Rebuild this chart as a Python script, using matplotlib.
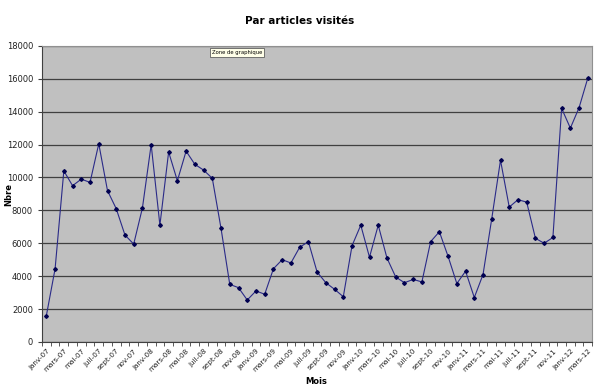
import numpy as np
import matplotlib.pyplot as plt

# monthly visits, janv-07 .. mars-12
mois_fr = ['janv', 'févr', 'mars', 'avr', 'mai', 'juin',
           'juil', 'août', 'sept', 'oct', 'nov', 'déc']
annees = ['07', '08', '09', '10', '11', '12']
valeurs = [1600, 4450, 10400, 9500, 9900, 9700, 12050, 9200, 8100, 6500,
           5950, 8150, 12000, 7100, 11550, 9800, 11600, 10800, 10450, 9950,
           6900, 3500, 3300, 2550, 3100, 2900, 4450, 5000, 4800, 5750,
           6100, 4250, 3600, 3200, 2750, 5850, 7100, 5150, 7100, 5100,
           3950, 3600, 3800, 3650, 6100, 6700, 5200, 3550, 4300, 2700,
           4100, 7500, 11050, 8200, 8650, 8500, 6300, 6000, 6350, 14200,
           13000, 14250, 16050]

labels = [f'{m}-{a}' for a in annees for m in mois_fr][:len(valeurs)]
x = np.arange(len(valeurs))

fig = plt.figure(figsize=(6, 3.89), dpi=100)
ax = fig.add_axes([0.07, 0.121, 0.917, 0.761])
ax.set_facecolor('#c0c0c0')

ax.plot(x, valeurs, color='#2a2a88', lw=0.8, marker='D', ms=1.9,
        mfc='#000050', mec='#000050', zorder=3)

ax.set_xlim(-0.5, len(valeurs) - 0.5)
ax.set_ylim(0, 18000)
ax.set_yticks(np.arange(0, 18001, 2000))
ax.yaxis.grid(True, color='#404040', lw=0.9)
ax.set_axisbelow(True)

ax.set_xticks(x[::2])
ax.set_xticklabels(labels[::2], rotation=45, ha='right',
                   rotation_mode='anchor', fontsize=5.2, color='#222222')
ax.set_xticks(np.arange(-0.5, len(valeurs), 1), minor=True)
ax.tick_params(axis='x', which='major', length=0, pad=4)
ax.tick_params(axis='x', which='minor', length=3, color='#404040')
ax.tick_params(axis='y', labelsize=6, length=3, color='#404040',
               labelcolor='#222222')

for s in ['top', 'right']:
    ax.spines[s].set_color('#909090')
for s in ['left', 'bottom']:
    ax.spines[s].set_color('#404040')

fig.text(0.5, 0.947, 'Par articles visités', ha='center', va='center',
         fontsize=7.5, fontweight='bold')
fig.text(0.014, 0.5, 'Nbre', rotation=90, ha='center', va='center',
         fontsize=6, fontweight='bold')
fig.text(0.527, 0.02, 'Mois', ha='center', va='center',
         fontsize=6, fontweight='bold')
fig.text(0.395, 0.865, 'Zone de graphique', ha='center', va='center',
         fontsize=3.8,
         bbox=dict(boxstyle='square,pad=0.4', fc='#ffffe8', ec='#606060', lw=0.6))

fig.savefig('out.png', dpi=100)
